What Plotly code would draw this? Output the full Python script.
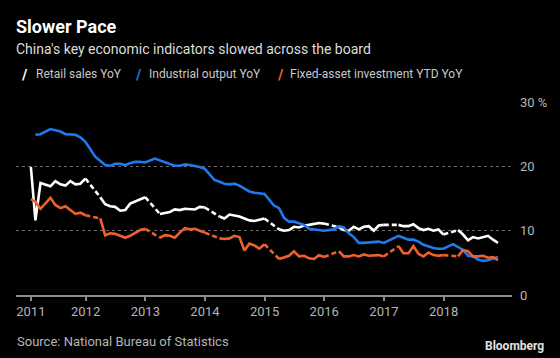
import pandas as pd
import plotly.graph_objects as go

# ---- data (monthly, month-end) ----
dates = pd.date_range("2011-01-31", "2018-11-30", freq="ME")

retail_sales = [
    19.9, 11.6, 17.4, 17.1, 16.9, 17.7, 17.2, 17.0, 17.7, 17.2, 17.3, 18.1,
    None, None, 15.2, 14.1, 13.8, 13.7, 13.1, 13.2, 14.2, 14.5, 14.9, 15.2,
    None, None, 12.6, 12.8, 12.9, 13.3, 13.2, 13.4, 13.3, 13.3, 13.7, 13.6,
    None, None, 12.2, 11.9, 12.5, 12.4, 12.2, 11.9, 11.6, 11.5, 11.7, 11.9,
    None, None, 10.2, 10.0, 10.1, 10.6, 10.5, 10.8, 10.9, 11.0, 11.2, 11.1,
    None, None, 10.5, 10.1, 10.0, 10.6, 10.2, 10.6, 10.7, 10.0, 10.8, 10.9,
    None, None, 10.9, 10.7, 10.7, 11.0, 10.4, 10.1, 10.3, 10.0, 10.2, 9.4,
    None, None, 10.1, 9.4, 8.5, 9.0, 8.8, 9.0, 9.2, 8.6, 8.1,
]
industrial_output = [
    None, 24.9, 25.0, 25.4, 25.8, 25.6, 25.4, 25.0, 24.9, 24.9, 24.5, 23.8,
    None, 21.5, 20.9, 20.2, 20.1, 20.4, 20.4, 20.2, 20.5, 20.7, 20.7, 20.6,
    None, 21.2, 20.9, 20.6, 20.4, 20.1, 20.1, 20.3, 20.2, 20.1, 19.9, 19.6,
    None, 17.9, 17.6, 17.3, 17.2, 17.3, 17.0, 16.5, 16.1, 15.9, 15.8, 15.7,
    None, 13.9, 13.5, 12.0, 11.4, 11.4, 11.2, 10.9, 10.3, 10.2, 10.2, 10.0,
    None, 10.2, 10.7, 10.5, 9.6, 9.0, 8.1, 8.1, 8.2, 8.3, 8.3, 8.1,
    None, 8.9, 9.2, 8.9, 8.6, 8.6, 8.3, 7.8, 7.5, 7.3, 7.2, 7.2,
    None, 7.9, 7.5, 7.0, 6.1, 6.0, 5.5, 5.3, 5.4, 5.7, 5.9,
]
fixed_asset = [
    14.9, 14.5, 13.4, 14.2, 15.1, 14.0, 13.5, 13.8, 13.2, 12.6, 12.8, 12.4,
    None, None, 11.9, 9.3, 9.6, 9.5, 9.2, 8.9, 9.2, 9.6, 10.1, 10.3,
    None, None, 8.9, 9.3, 9.2, 8.9, 9.7, 10.4, 10.2, 10.3, 10.0, 9.7,
    None, None, 8.8, 8.7, 8.8, 9.2, 9.0, 6.9, 8.0, 7.7, 7.2, 7.9,
    None, None, 5.6, 5.9, 6.1, 6.8, 6.0, 6.1, 5.7, 5.6, 6.2, 5.9,
    None, None, 6.8, 6.0, 6.0, 6.2, 6.0, 6.3, 6.1, 6.1, 6.2, 6.0,
    None, None, 7.6, 6.5, 6.5, 7.6, 6.4, 6.0, 6.6, 6.2, 6.1, 6.2,
    None, None, 6.0, 7.0, 6.8, 6.0, 6.0, 6.1, 5.8, 5.9, 5.4,
]

series_names = ["Retail sales YoY", "Industrial output YoY", "Fixed-asset investment YTD YoY"]
series_colors = ["#ffffff", "#1d7af0", "#f0602f"]

year_ticks = ["2011-01-31", "2012-01-01", "2013-01-01", "2014-01-01", "2015-01-01",
              "2016-01-01", "2017-01-01", "2018-01-01"]
year_labels = ["2011", "2012", "2013", "2014", "2015", "2016", "2017", "2018"]
y_ticks = [0, 10, 20, 30]
y_labels = ["0", "10", "20", "30 %"]

FONT = "Roboto"
LW = 2.6


def gap_connectors(xs, ys):
    """Dashed bridges across missing months (previous valid -> next valid)."""
    cx, cy = [], []
    n = len(ys)
    i = 1
    while i < n:
        if ys[i] is None and ys[i - 1] is not None:
            j = i
            while j < n and ys[j] is None:
                j += 1
            if j < n:
                cx += [xs[i - 1], xs[j], None]
                cy += [ys[i - 1], ys[j], None]
            i = j
        else:
            i += 1
    return cx, cy


fig = go.Figure()

for vals, name, color, bridge in [
    (retail_sales, series_names[0], series_colors[0], True),
    (industrial_output, series_names[1], series_colors[1], False),
    (fixed_asset, series_names[2], series_colors[2], True),
]:
    fig.add_trace(go.Scatter(
        x=dates, y=vals, mode="lines", name=name,
        line=dict(color=color, width=LW), connectgaps=not bridge,
        showlegend=False, hoverinfo="skip",
    ))
    if bridge:
        cx, cy = gap_connectors(list(dates), vals)
        fig.add_trace(go.Scatter(
            x=cx, y=cy, mode="lines", showlegend=False, hoverinfo="skip",
            line=dict(color=color, width=LW, dash="5px,3px"),
        ))

# plot area in pixels: x 16..512, y 102..295
L, R, T, B = 16, 48, 102, 63
W, H = 560, 358
pw, ph = W - L - R, H - T - B


def px(x):
    return (x - L) / pw


def py(y):
    return (H - B - y) / ph


annotations = [
    dict(text="<b>Slower Pace</b>", x=px(14), y=py(27), xanchor="left", yanchor="middle",
         font=dict(family=FONT, size=18, color="#ffffff")),
    dict(text="China's key economic indicators slowed across the board", x=px(14), y=py(49),
         xanchor="left", yanchor="middle", font=dict(family=FONT, size=14, color="#dcdcdc")),
    dict(text="Source: National Bureau of Statistics", x=px(15), y=py(341),
         xanchor="left", yanchor="middle", font=dict(family=FONT, size=13, color="#b5b5b5")),
    dict(text="<b>Bloomberg</b>", x=px(546), y=py(346), xanchor="right", yanchor="middle",
         font=dict(family=FONT, size=12, color="#e0e0e0")),
]

legend_icon_x = [24.5, 139, 281]
legend_text_x = [34, 147, 288]
for name, color, ix, tx in zip(series_names, series_colors, legend_icon_x, legend_text_x):
    annotations.append(dict(text="<b>/</b>", x=px(ix), y=py(74.5), xanchor="center", yanchor="middle",
                            font=dict(family="DejaVu Sans", size=14, color=color)))
    annotations.append(dict(text=name, x=px(tx), y=py(74.5), xanchor="left", yanchor="middle",
                            font=dict(family=FONT, size=12, color="#c8c8c8")))

for a in annotations:
    a.update(xref="paper", yref="paper", showarrow=False)

fig.update_layout(
    width=W, height=H,
    margin=dict(l=L, r=R, t=T, b=B, pad=0),
    paper_bgcolor="#000000", plot_bgcolor="#000000",
    font=dict(family=FONT, color="#b5b5b5", size=13),
    annotations=annotations,
    showlegend=False,
    xaxis=dict(
        type="date", range=["2010-11-01", "2019-02-24"],
        tickvals=year_ticks, ticktext=year_labels,
        showgrid=False, zeroline=False,
        showline=True, linecolor="#8a8a8a", linewidth=1.5,
        ticks="outside", ticklen=4, tickwidth=1.5, tickcolor="#8a8a8a",
        tickfont=dict(family=FONT, size=13, color="#b5b5b5"),
    ),
    yaxis=dict(
        range=[0, 30], side="right",
        tickvals=y_ticks, ticktext=y_labels,
        showgrid=True, gridcolor="#6a6a6a", gridwidth=1, griddash="dot",
        zeroline=False, showline=False, ticks="",
        ticklabelstandoff=7,
        tickfont=dict(family=FONT, size=13, color="#b5b5b5"),
    ),
)

fig.write_html(
    "out.html",
    config={"displayModeBar": False},
    post_script="document.body.style.margin='0';document.body.style.background='#000';",
)
